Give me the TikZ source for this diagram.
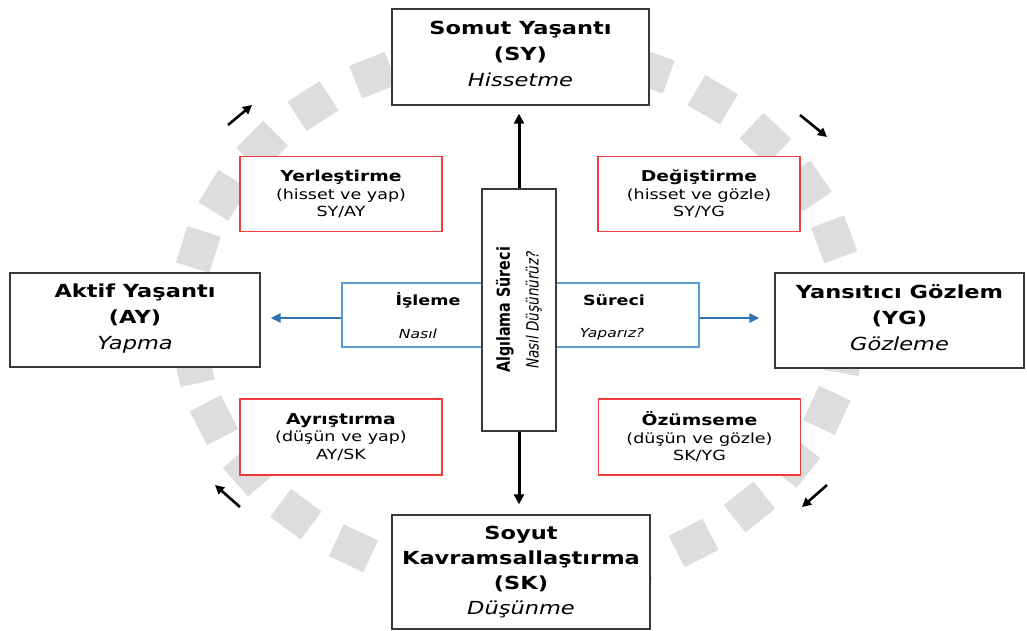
\documentclass[tikz,border=0pt]{standalone}
\usepackage{fontspec}
\setmainfont{DejaVu Sans}[FakeStretch=1.25]
\newfontfamily\plainfam{DejaVu Sans}
\usetikzlibrary{arrows.meta}
\definecolor{ringgray}{HTML}{DDDDDD}
\definecolor{framegray}{HTML}{3A3A3A}
\definecolor{modered}{HTML}{F03C3C}
\definecolor{flowblue}{HTML}{5B9BD5}
\definecolor{arrowblue}{HTML}{2E75B6}
\begin{document}
\begin{tikzpicture}[x=1pt,y=-1pt,
  stagebox/.style={draw=framegray, line width=1.4pt, fill=white, inner sep=0pt, align=center,
    font=\fontsize{18}{26}\selectfont},
  modebox/.style={draw=modered, line width=1.4pt, fill=white, inner sep=0pt, align=center,
    minimum width=202pt, minimum height=75pt, font=\fontsize{14}{17.5}\selectfont},
  flowtext/.style={inner sep=0pt, font=\fontsize{14}{17}\selectfont},
  flownote/.style={inner sep=0pt, font=\fontsize{12.5}{15}\selectfont\itshape},
  blackarrow/.style={draw=black, line width=3pt, -{Triangle[length=10pt,width=10pt]}},
  bluearrow/.style={draw=arrowblue, line width=2.5pt, -{Triangle[length=10pt,width=9pt]}},
  cyclearrow/.style={draw=black, line width=2.6pt, -{Triangle[length=9pt,width=9pt]}}]
\useasboundingbox (0,0) rectangle (1027,631);

% dashed ring of tilted squares around the cycle
\foreach \k in {0,...,28}{
  \pgfmathsetmacro\t{116+12.41*\k}
  \pgfmathsetmacro\cx{518+330*cos(\t)}
  \pgfmathsetmacro\cy{316-268*sin(\t)}
  \pgfmathsetmacro\rot{atan2(268*cos(\t),-330*sin(\t))}
  \fill[ringgray, shift={(\cx,\cy)}, rotate=\rot] (-19pt,-17.5pt) rectangle (19pt,17.5pt);
}

% cycle direction arrows
\coordinate (tl1) at (228,125); \coordinate (tl2) at (252,105);
\coordinate (tr1) at (800,115); \coordinate (tr2) at (827,137);
\coordinate (br1) at (827,485); \coordinate (br2) at (802,507);
\coordinate (bl1) at (240,507); \coordinate (bl2) at (215,485);
\draw[cyclearrow] (tl1) -- (tl2);
\draw[cyclearrow] (tr1) -- (tr2);
\draw[cyclearrow] (br1) -- (br2);
\draw[cyclearrow] (bl1) -- (bl2);

% four stages
\node[stagebox, minimum width=257pt, minimum height=96pt] (sy) at (520.5,57)
  {\textbf{Somut Yaşantı}\\\textbf{(SY)}\\\textit{Hissetme}\\[-20pt]\mbox{}};
\node[stagebox, minimum width=250pt, minimum height=94pt] (ay) at (135,320)
  {\textbf{Aktif Yaşantı}\\\textbf{(AY)}\\\textit{Yapma}\\[-20pt]\mbox{}};
\node[stagebox, minimum width=249pt, minimum height=95pt] (yg) at (899.5,320.5)
  {\textbf{Yansıtıcı Gözlem}\\\textbf{(YG)}\\\textit{Gözleme}\\[-20pt]\mbox{}};
\node[stagebox, minimum width=258pt, minimum height=114pt, font=\fontsize{18}{25}\selectfont] (sk) at (521,572)
  {\textbf{Soyut}\\\textbf{Kavramsallaştırma}\\\textbf{(SK)}\\\textit{Düşünme}};

% learning styles
\node[modebox] (yer) at (341,194)
  {\textbf{\fontsize{15}{17.5}\selectfont Yerleştirme}\\(hisset ve yap)\\SY/AY};
\node[modebox] (deg) at (699,194)
  {\textbf{\fontsize{15}{17.5}\selectfont Değiştirme}\\(hisset ve gözle)\\SY/YG};
\node[modebox, minimum height=76pt] (ayr) at (341,437)
  {\textbf{\fontsize{15}{17.5}\selectfont Ayrıştırma}\\(düşün ve yap)\\AY/SK};
\node[modebox, minimum height=76pt] (ozu) at (699.5,437)
  {\textbf{\fontsize{15}{17.5}\selectfont Özümseme}\\(düşün ve gözle)\\SK/YG};

% processing band
\node[draw=flowblue, line width=1.3pt, fill=white, minimum width=357pt, minimum height=64pt, inner sep=0pt]
  (flow) at (520.5,315) {};
\node[flowtext] (isl) at (428,300) {\textbf{İşleme}};
\node[flownote] (nas) at (418,334) {Nasıl};
\node[flowtext] (sur) at (614,300) {\textbf{Süreci}};
\node[flownote] (yap) at (612,334) {Yaparız?};

% perception column
\node[draw=framegray, line width=1.4pt, fill=white, minimum width=74pt, minimum height=242pt, inner sep=0pt]
  (proc) at (519,310) {};
\node[xscale=1.25, rotate=90, inner sep=0pt, align=center, font=\plainfam\fontsize{14.3}{23}\selectfont]
  (proclabel) at (proc.center)
  {\textbf{Algılama Süreci}\\\textit{\fontsize{13.5}{23}\selectfont Nasıl Düşünürüz?}};

% axis arrows
\coordinate (flowL) at ([yshift=-3pt]flow.west);
\coordinate (flowR) at ([yshift=-3pt]flow.east);
\draw[blackarrow, shorten >=8pt] (proc.north) -- (proc.north |- sy.south);
\draw[blackarrow, shorten >=10pt] (proc.south) -- (proc.south |- sk.north);
\draw[bluearrow, shorten >=10pt] (flowL) -- (flowL -| ay.east);
\draw[bluearrow, shorten >=15pt] (flowR) -- (flowR -| yg.west);
\end{tikzpicture}
\end{document}
